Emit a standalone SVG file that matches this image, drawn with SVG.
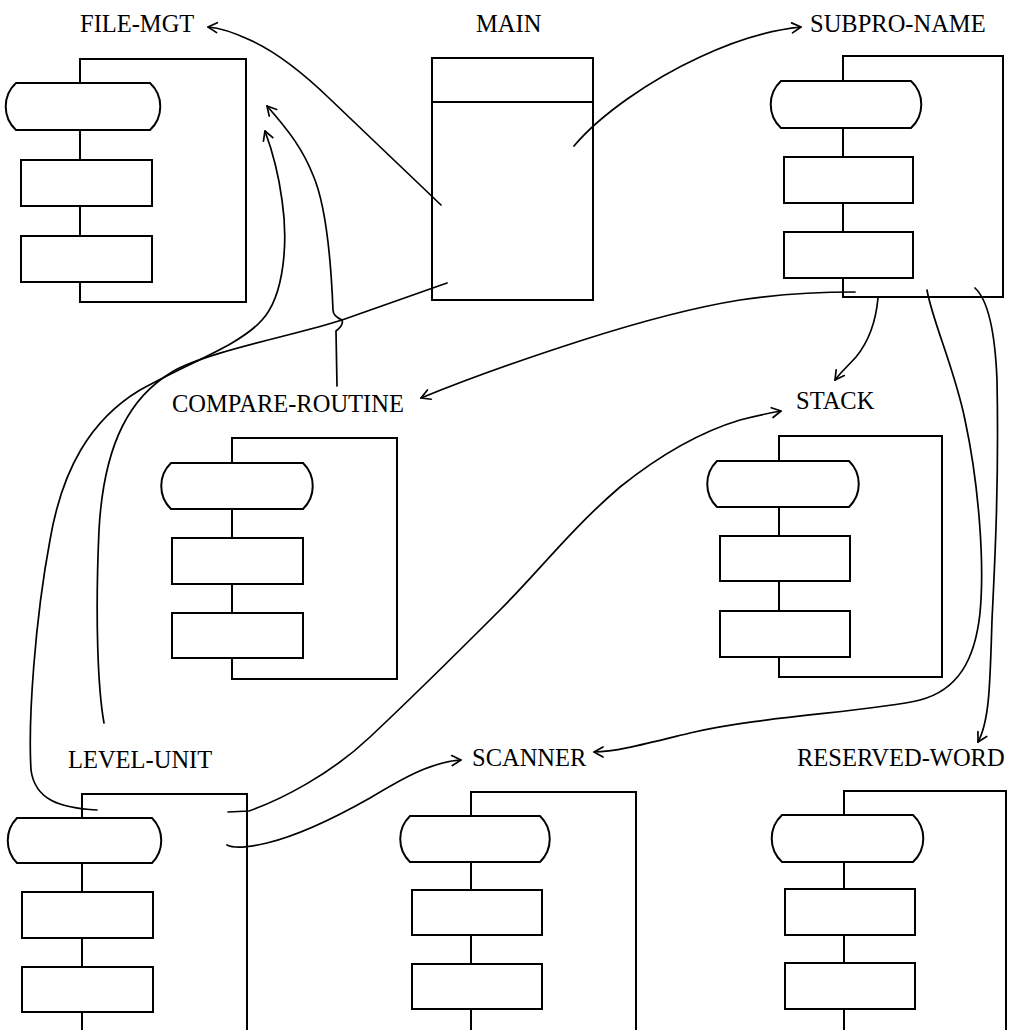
<svg xmlns="http://www.w3.org/2000/svg" width="1009" height="1030" viewBox="0 0 1009 1030">
<style>
.lbl{font-family:"Liberation Serif","Times New Roman",serif;font-size:24.5px;fill:#000}
.frame{fill:none;stroke:#000;stroke-width:2}
.shp{fill:#fff;stroke:#000;stroke-width:2}
.con{fill:none;stroke:#000;stroke-width:1.7;stroke-linecap:round;stroke-linejoin:round}
</style>
<defs>
<marker id="arr" markerWidth="14" markerHeight="14" refX="11" refY="7" orient="auto" markerUnits="userSpaceOnUse">
<path d="M2,2 L11,7 L2,12" fill="none" stroke="#000" stroke-width="1.7" stroke-linecap="round" stroke-linejoin="round"/>
</marker>
</defs>
<rect width="1009" height="1030" fill="#fff"/>

<g id="file-mgt">
<text class="lbl" x="80" y="32">FILE-MGT</text>
<path class="frame" d="M80,59 H246 V302 H80 Z"/>
<path class="shp" d="M16,83 H150 A32,32 0 0 1 150,130 H16 A32,32 0 0 1 16,83 Z"/>
<rect class="shp" x="21" y="160" width="131" height="46"/>
<rect class="shp" x="21" y="236" width="131" height="46"/>
</g>

<g id="main">
<text class="lbl" x="476" y="32">MAIN</text>
<rect class="frame" x="432" y="58" width="161" height="242"/>
<line class="frame" x1="432" y1="102" x2="593" y2="102"/>
</g>

<g id="subpro-name">
<text class="lbl" x="810" y="32">SUBPRO-NAME</text>
<path class="frame" d="M843,56 H1003 V297 H843 Z"/>
<path class="shp" d="M781,81 H911 A32,32 0 0 1 911,128 H781 A32,32 0 0 1 781,81 Z"/>
<rect class="shp" x="784" y="157" width="129" height="46"/>
<rect class="shp" x="784" y="232" width="129" height="46"/>
</g>

<g id="compare-routine">
<text class="lbl" x="172" y="412">COMPARE-ROUTINE</text>
<path class="frame" d="M232,438 H397 V679 H232 Z"/>
<path class="shp" d="M171,463 H303 A32,32 0 0 1 303,509 H171 A32,32 0 0 1 171,463 Z"/>
<rect class="shp" x="172" y="538" width="131" height="46"/>
<rect class="shp" x="172" y="613" width="131" height="45"/>
</g>

<g id="stack">
<text class="lbl" x="796" y="409">STACK</text>
<path class="frame" d="M779,436 H942 V677 H779 Z"/>
<path class="shp" d="M717,461 H849 A32,32 0 0 1 849,507 H717 A32,32 0 0 1 717,461 Z"/>
<rect class="shp" x="720" y="536" width="130" height="45"/>
<rect class="shp" x="720" y="611" width="130" height="46"/>
</g>

<g id="level-unit">
<text class="lbl" x="68" y="768">LEVEL-UNIT</text>
<path class="frame" d="M82,1040 V794 H247 V1040"/>
<path class="shp" d="M17,818 H152 A32,32 0 0 1 152,863 H17 A32,32 0 0 1 17,818 Z"/>
<rect class="shp" x="22" y="892" width="131" height="46"/>
<rect class="shp" x="22" y="967" width="131" height="45"/>
</g>

<g id="scanner">
<text class="lbl" x="472" y="766">SCANNER</text>
<path class="frame" d="M471,1040 V792 H636 V1040"/>
<path class="shp" d="M410,816 H540 A32,32 0 0 1 540,862 H410 A32,32 0 0 1 410,816 Z"/>
<rect class="shp" x="412" y="890" width="130" height="45"/>
<rect class="shp" x="412" y="964" width="130" height="45"/>
</g>

<g id="reserved-word">
<text class="lbl" x="797" y="766">RESERVED-WORD</text>
<path class="frame" d="M844,1040 V791 H1006 V1040"/>
<path class="shp" d="M782,815 H913 A32,32 0 0 1 913,862 H782 A32,32 0 0 1 782,815 Z"/>
<rect class="shp" x="785" y="889" width="130" height="46"/>
<rect class="shp" x="785" y="963" width="130" height="46"/>
</g>

<g id="connectors">
<path class="con" marker-end="url(#arr)" d="M441,205 L330,99 C300,70 272,50 250,40 C235,33 222,28 208,27"/>
<path class="con" marker-end="url(#arr)" d="M574,146 C600,115 650,80 700,57 C740,38 770,30 801,27"/>
<path class="con" marker-end="url(#arr)" d="M337,386 L336,331 Q344,325 342,320 Q333,316 333,310 C331,260 326,205 313,175 C303,150 290,132 267,106"/>
<path class="con" d="M447,283 L342,320 C300,334 205,352 172,372 C132,396 104,440 99,530 C95,620 98,690 104,723"/>
<path class="con" marker-end="url(#arr)" d="M97,810 C60,808 35,800 31,770 C28,720 35,620 50,540 C62,470 90,420 140,390 C190,362 240,345 262,320 C285,295 288,240 282,200 C278,170 272,150 265,131"/>
<path class="con" marker-end="url(#arr)" d="M855,292 C820,292 780,294 740,300 C690,308 630,325 583,340 C530,357 470,378 421,398"/>
<path class="con" marker-end="url(#arr)" d="M878,298 C876,320 870,340 856,357 C846,368 840,373 835,380"/>
<path class="con" marker-end="url(#arr)" d="M927,290 C932,320 955,370 965,420 C978,480 985,560 980,613 C975,660 958,690 920,700 C870,712 760,716 690,733 C645,744 615,752 594,752"/>
<path class="con" marker-end="url(#arr)" d="M975,288 C988,300 995,330 997,380 C999,480 995,560 992,620 C990,680 990,720 978,742"/>
<path class="con" marker-end="url(#arr)" d="M228,812 L249,811 C280,800 330,775 370,737 C420,690 460,650 500,610 C540,570 570,530 620,487 C660,455 700,432 740,420 C755,416 770,413 781,411"/>
<path class="con" marker-end="url(#arr)" d="M227,845 C235,849 250,847 267,843 C300,835 340,815 370,798 C400,780 430,762 461,760"/>
</g>
</svg>
